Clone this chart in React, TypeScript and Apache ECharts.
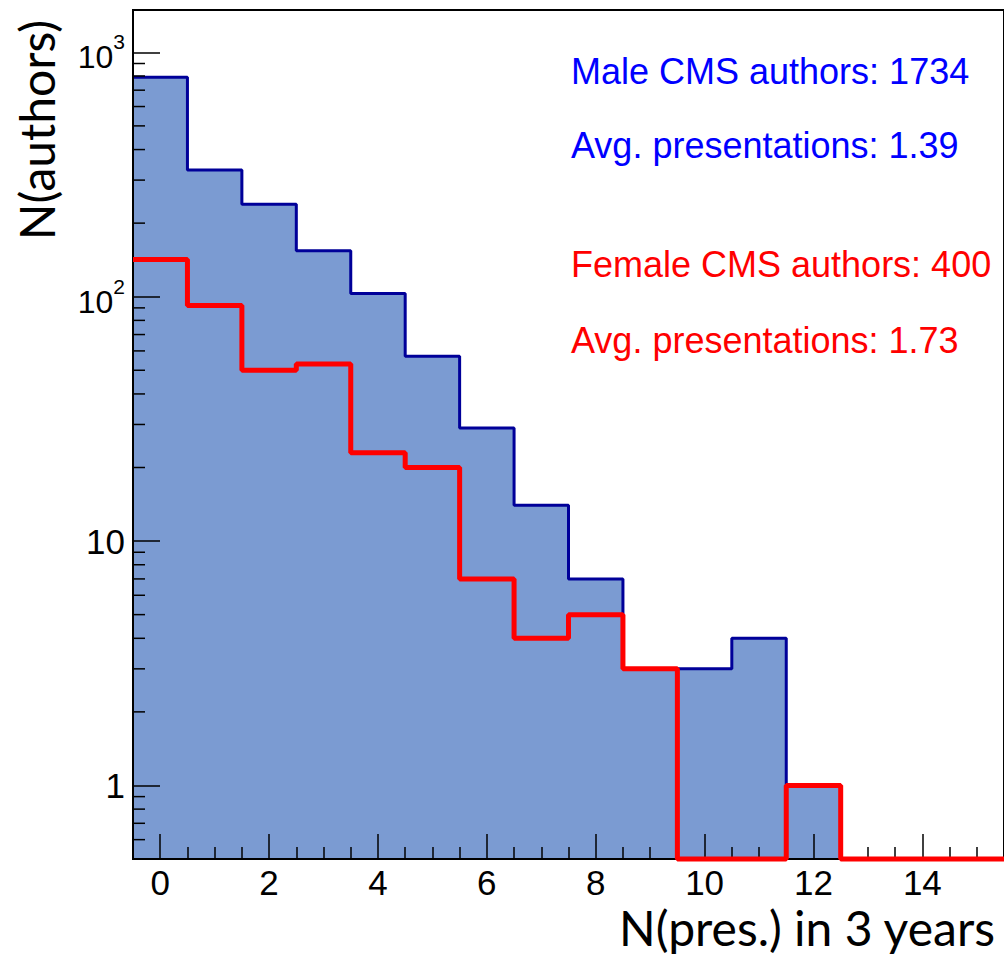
import React, { useEffect, useRef } from "react";
import * as echarts from "echarts";

// ---- data ----
const binCenters = [0, 1, 2, 3, 4, 5, 6, 7, 8, 9, 10, 11, 12, 13, 14, 15];
const maleCounts = [790, 330, 239, 154, 103, 57, 29, 14, 7, 3, 3, 4, 1, 0, 0, 0];
const femaleCounts = [142, 92, 50, 53, 23, 20, 7, 4, 5, 3, 0, 0, 1, 0, 0, 0];
const yMinorTicks = [0.6, 0.7, 0.8, 0.9, 2, 3, 4, 5, 6, 7, 8, 9, 20, 30, 40, 50, 60, 70, 80, 90, 200, 300, 400, 500, 600, 700, 800, 900];
const maleText = ["Male CMS authors: 1734", "Avg. presentations: 1.39"];
const femaleText = ["Female CMS authors: 400", "Avg. presentations: 1.73"];
const xTitle = "N(pres.) in 3 years";
const yTitle = "N(authors)";

const X_MIN = -0.5;
const X_MAX = 15.5;
const Y_MIN = 0.5;
const Y_MAX = 1490;
const BIN_HALF = 0.5;

function stepData(counts: number[]): number[][] {
  const pts = counts.map((c, i) => [binCenters[i] - BIN_HALF, Math.max(c, Y_MIN)]);
  const last = counts.length - 1;
  pts.push([binCenters[last] + BIN_HALF, Math.max(counts[last], Y_MIN)]);
  return pts;
}

const FONT = "Liberation Sans";

export default function App() {
  const ref = useRef<HTMLDivElement>(null);
  useEffect(() => {
    document.body.style.margin = "0";
    if (!ref.current) return;
    const chart = echarts.init(ref.current, undefined, { renderer: "svg" });
    const tickStyle = { color: "#000", width: 1.5 };
    chart.setOption({
      animation: false,
      backgroundColor: "#fff",
      grid: {
        left: 133,
        top: 10,
        width: 875,
        height: 849,
        show: true,
        borderColor: "#000",
        borderWidth: 2,
        backgroundColor: "transparent",
      },
      xAxis: {
        type: "value",
        min: X_MIN,
        max: X_MAX,
        splitNumber: 8,
        minInterval: 2,
        maxInterval: 2,
        z: 10,
        axisLine: { show: true, onZero: false, lineStyle: { color: "#000", width: 2 } },
        axisTick: { show: true, inside: true, length: 25, lineStyle: tickStyle },
        minorTick: { show: true, splitNumber: 4, length: 12, lineStyle: tickStyle },
        splitLine: { show: false },
        axisLabel: {
          show: true,
          color: "#000",
          fontFamily: FONT,
          fontSize: 35,
          lineHeight: 28,
          margin: 9,
          showMinLabel: false,
          showMaxLabel: false,
        },
      },
      yAxis: {
        type: "log",
        logBase: 10,
        min: Y_MIN,
        max: Y_MAX,
        z: 10,
        axisLine: { show: true, onZero: false, lineStyle: { color: "#000", width: 2 } },
        axisTick: { show: true, inside: true, length: 27, lineStyle: tickStyle },
        splitLine: { show: false },
        axisLabel: {
          show: true,
          color: "#000",
          fontFamily: FONT,
          fontSize: 35,
          margin: 8,
          showMinLabel: false,
          showMaxLabel: false,
          formatter: (value: number) => {
            const lg = Math.log10(value);
            const e = Math.round(lg);
            if (Math.abs(lg - e) > 1e-6) return "";
            if (e === 0) return "1";
            if (e === 1) return "10";
            return `{b|10}{s|${e}}`;
          },
          rich: {
            b: { fontFamily: FONT, fontSize: 32, color: "#000", lineHeight: 32, verticalAlign: "bottom" },
            s: { fontFamily: FONT, fontSize: 21, color: "#000", lineHeight: 42, verticalAlign: "top" },
          },
        },
      },
      series: [
        {
          name: "male",
          type: "line",
          step: "end",
          data: stepData(maleCounts),
          showSymbol: false,
          symbol: "none",
          clip: false,
          z: 2,
          lineStyle: { color: "#000099", width: 3 },
          areaStyle: { color: "#7b9bd2", opacity: 1, origin: "start" },
          silent: true,
        },
        {
          name: "yMinorTicks",
          type: "custom",
          z: 11,
          silent: true,
          clip: false,
          data: yMinorTicks.map((v) => [X_MIN, v]),
          renderItem: (_params: any, api: any) => {
            const p = api.coord([api.value(0), api.value(1)]);
            return {
              type: "line",
              shape: { x1: p[0], y1: p[1], x2: p[0] + 12, y2: p[1] },
              style: { stroke: "#000", lineWidth: 1.5 },
            };
          },
        },
        {
          name: "female",
          type: "line",
          step: "end",
          data: stepData(femaleCounts),
          showSymbol: false,
          symbol: "none",
          clip: false,
          z: 20,
          lineStyle: { color: "#ff0000", width: 5 },
          silent: true,
        },
      ],
      graphic: [
        ...maleText.map((t, i) => ({
          type: "text",
          x: 571,
          y: [71, 145][i],
          z: 30,
          style: { text: t, fill: "#0000ff", font: `36px '${FONT}'`, align: "left", verticalAlign: "middle" },
        })),
        ...femaleText.map((t, i) => ({
          type: "text",
          x: 571,
          y: [264, 340][i],
          z: 30,
          style: { text: t, fill: "#ff0000", font: `36px '${FONT}'`, align: "left", verticalAlign: "middle" },
        })),
        {
          type: "text",
          x: 36,
          y: 130,
          rotation: Math.PI / 2,
          z: 30,
          style: { text: yTitle, fill: "#000", font: "48px Lato", align: "center", verticalAlign: "middle" },
        },
        {
          type: "text",
          x: 995,
          y: 927,
          z: 30,
          style: { text: xTitle, fill: "#000", font: "48px Lato", lineHeight: 44, align: "right", verticalAlign: "middle" },
        },
      ],
    });
    return () => chart.dispose();
  }, []);
  return <div ref={ref} style={{ width: 1004, height: 955 }} />;
}
